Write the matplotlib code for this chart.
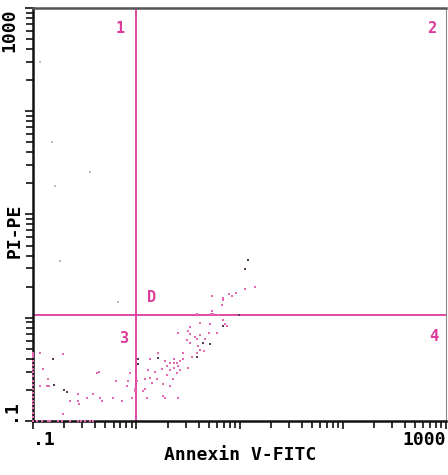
import matplotlib
matplotlib.use('Agg')
import matplotlib.pyplot as plt
import matplotlib.ticker as mticker
import numpy as np

# log10 intensities (Annexin V-FITC, PI-PE)
log_annexin = [0.99, 0.72, 0.59, 0.79, 0.86, 0.88, 0.71, 0.62, 0.70, 0.78,
               0.50, 0.52, 0.40, 0.62, 0.59, 0.66, 0.60, 0.52, 0.65, 0.62,
               0.59, 0.45, 0.54, 0.45, 0.42, 0.39, 0.36, 0.33, 0.40, 0.36,
               0.30, 0.36, 0.21, 0.13, 0.28, 0.50, 0.42, 0.33, 0.39, 0.30,
               0.25, 0.18, 0.11, 0.13, 0.20, 0.08, 0.35, 0.26, 0.33, 0.15,
               0.08, 0.06, -0.01, 0.01, 0.10, 0.26, 0.28, 0.40, -0.04, 0.52,
               0.57, 0.49,
               1.15, 1.05, 0.96, 0.90, 0.84, 0.84, 0.73, 0.93, 0.83, 0.73,
               0.74, 0.84,
               -0.93, -1.00, -0.71, -0.90, -0.86, -0.85, -0.87, -0.93, -0.57, -0.64,
               -0.57, -0.56, -0.48, -0.42, -0.35, -0.33, -0.38, -0.36, -0.23, -0.20,
               -0.14, -0.09, -0.08, -0.06, -0.01, -0.71,
               -0.96, -0.91, -0.86, -0.84, -0.76, -0.72, -0.64, -0.57, -0.54, -0.50,
               -0.45, -0.42,
               -1.00, -1.00, -1.00, -1.00, -1.00, -1.00, -1.00, -1.00, -1.00, -1.00,
               -1.00, -1.00, -1.00, -1.00, -1.00, -1.00, -1.00, -1.00]
log_pi = [0.03, 0.04, 0.04, 0.03, -0.06, -0.08, -0.06, -0.05, -0.15, -0.15,
          -0.13, -0.16, -0.15, -0.17, -0.21, -0.21, -0.27, -0.25, -0.32, -0.31,
          -0.34, -0.34, -0.38, -0.40, -0.42, -0.44, -0.44, -0.44, -0.47, -0.49,
          -0.47, -0.40, -0.34, -0.40, -0.42, -0.49, -0.51, -0.51, -0.54, -0.56,
          -0.50, -0.53, -0.51, -0.58, -0.59, -0.59, -0.59, -0.64, -0.66, -0.63,
          -0.69, -0.71, -0.71, -0.61, -0.78, -0.76, -0.78, -0.78, -0.78, -0.09,
          -0.19, -0.22,
          0.30, 0.28, 0.24, 0.23, 0.19, 0.17, 0.21, 0.21, 0.12, 0.06,
          0.04, -0.02,
          -0.34, -0.36, -0.35, -0.50, -0.59, -0.66, -0.66, -0.66, -0.74, -0.81,
          -0.81, -0.84, -0.78, -0.74, -0.78, -0.81, -0.54, -0.53, -0.78, -0.61,
          -0.81, -0.66, -0.61, -0.54, -0.69, -0.93,
          -1.00, -1.00, -1.00, -1.00, -1.00, -1.00, -1.00, -1.00, -1.00, -1.00,
          -1.00, -1.00,
          -0.34, -0.38, -0.42, -0.46, -0.50, -0.53, -0.57, -0.61, -0.65, -0.69,
          -0.73, -0.77, -0.81, -0.84, -0.88, -0.92, -0.96, -1.00]

# darker events
dark_annexin = [0.99, 0.84, 0.64, 0.71, 0.59, 0.21, 0.02, 0.02, 1.08, 1.05,
                -0.81, -0.80, -0.70, -0.67]
dark_pi = [0.03, -0.08, -0.25, -0.26, -0.38, -0.39, -0.45, -0.40, 0.56, 0.47,
           -0.40, -0.65, -0.70, -0.72]

# faint stray events
faint_annexin = [-0.45, -0.79, -0.74, -0.18, -0.93, -0.82]
faint_pi = [1.41, 1.28, 0.55, 0.15, 2.48, 1.70]

gate_x = 1.0
gate_y = 1.07

quad_labels = ['1', '2', '3', '4', 'D']
quad_pos = [(0.21, 0.95), (0.966, 0.95), (0.218, 0.20), (0.971, 0.205), (0.286, 0.30)]

magenta = '#dd3a9c'
dot = '#e46ab4'
mono = 'DejaVu Sans Mono'

fig = plt.figure(figsize=(4.48, 4.75), dpi=100)
ax = fig.add_axes([0.074, 0.114, 0.922, 0.869])
ax.set_xscale('log')
ax.set_yscale('log')
ax.set_xlim(0.1, 1000)
ax.set_ylim(0.1, 1000)

ax.scatter(10 ** np.array(faint_annexin), 10 ** np.array(faint_pi), s=2, marker='s',
           color='#bbbbbb', linewidths=0, clip_on=False)
ax.scatter(10 ** np.array(log_annexin), 10 ** np.array(log_pi), s=4, marker='s',
           color=dot, linewidths=0, clip_on=False, zorder=3)
ax.scatter(10 ** np.array(dark_annexin), 10 ** np.array(dark_pi), s=4, marker='s',
           color='#5a3a55', linewidths=0, clip_on=False, zorder=4)

ax.axvline(gate_x, color=magenta, lw=1.3, zorder=2)
ax.axhline(gate_y, color=magenta, lw=1.3, zorder=2)

for lab, (px, py) in zip(quad_labels, quad_pos):
    ax.text(px, py, lab, transform=ax.transAxes, color=magenta, fontsize=11,
            fontweight='bold', family=mono, ha='center', va='center')

for side in ['left', 'bottom']:
    ax.spines[side].set_linewidth(1.8)
    ax.spines[side].set_color('#111111')
ax.spines['top'].set_linewidth(1.8)
ax.spines['top'].set_color('#555555')
ax.spines['right'].set_linewidth(0.8)
ax.spines['right'].set_color('#888888')

for axis in [ax.xaxis, ax.yaxis]:
    axis.set_major_locator(mticker.LogLocator(base=10, numticks=10))
    axis.set_minor_locator(mticker.LogLocator(base=10, subs=np.arange(2, 10), numticks=10))
    axis.set_major_formatter(mticker.NullFormatter())
    axis.set_minor_formatter(mticker.NullFormatter())
ax.tick_params(which='both', direction='out', length=5, width=1.2, color='#111111')
ax.tick_params(which='major', length=6)

tfx = ax.get_xaxis_transform()
tfy = ax.get_yaxis_transform()
ax.text(0.1, -0.025, '.1', transform=tfx, ha='left', va='top', fontsize=13,
        fontweight='bold', family=mono)
ax.text(1000, -0.025, '1000', transform=tfx, ha='right', va='top', fontsize=13,
        fontweight='bold', family=mono)
ax.text(-0.035, 0.1, '.1', transform=tfy, ha='right', va='bottom', rotation=90,
        fontsize=13, fontweight='bold', family=mono)
ax.text(-0.035, 1000, '1000', transform=tfy, ha='right', va='top', rotation=90,
        fontsize=13, fontweight='bold', family=mono)

ax.set_xlabel('Annexin V-FITC', fontsize=13, fontweight='bold', family=mono)
ax.set_ylabel('PI-PE', fontsize=13, fontweight='bold', family=mono)
ax.xaxis.set_label_coords(0.5, -0.062)
ax.yaxis.set_label_coords(-0.022, 0.46)

fig.savefig('out.png', dpi=100)
